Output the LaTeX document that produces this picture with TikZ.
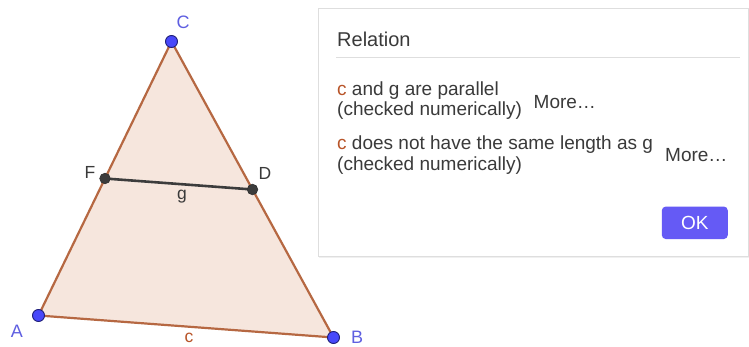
\documentclass[tikz,border=0pt]{standalone}
\usepackage{fontspec}
\setmainfont{Liberation Sans}
\definecolor{edgebrown}{RGB}{182,104,66}
\definecolor{fillpeach}{RGB}{246,230,221}
\definecolor{ptblue}{RGB}{72,72,250}
\definecolor{ptblueedge}{RGB}{30,30,120}
\definecolor{lblblue}{RGB}{95,95,225}
\definecolor{txtgrey}{RGB}{58,58,58}
\definecolor{cbrown}{RGB}{184,84,40}
\definecolor{okblue}{RGB}{101,90,245}
\definecolor{boxline}{RGB}{222,222,222}
\definecolor{segdark}{RGB}{60,60,60}
\begin{document}
\begin{tikzpicture}[x=1pt,y=-1pt,
  bluept/.style={circle,fill=ptblue,draw=ptblueedge,line width=0.9pt,inner sep=0pt,minimum size=12pt},
  darkpt/.style={circle,fill=segdark,draw=black!80,line width=0.7pt,inner sep=0pt,minimum size=10.5pt},
  ptlabel/.style={text=lblblue,font=\fontsize{18}{18}\selectfont,inner sep=0pt},
  seglabel/.style={font=\fontsize{17.5}{17.5}\selectfont,inner sep=0pt},
  body/.style={anchor=base west,inner sep=0pt,text=txtgrey,font=\fontsize{19}{20}\selectfont},
]
\useasboundingbox (0,0) rectangle (749,347);
\fill[white] (0,0) rectangle (749,347);

% triangle
\coordinate (A) at (38.5,315.5);
\coordinate (B) at (333.5,337.5);
\coordinate (C) at (171.5,41.5);
\coordinate (F) at (105,178.5);
\coordinate (D) at (252.5,189.5);
\fill[fillpeach] (A) -- (B) -- (C) -- cycle;
\draw[edgebrown,line width=2.2pt,line join=round] (A) -- (B) -- (C) -- cycle;
\draw[segdark,line width=2.6pt] (F) -- (D);

\node[bluept] (pA) at (A) {};
\node[bluept] (pB) at (B) {};
\node[bluept] (pC) at (C) {};
\node[darkpt] (pF) at (F) {};
\node[darkpt] (pD) at (D) {};

\node[ptlabel] (lA) at (17,331) {A};
\node[ptlabel] (lB) at (357,337.5) {B};
\node[ptlabel] (lC) at (183,22) {C};
\node[seglabel,text=txtgrey] (lF) at (90,172) {F};
\node[seglabel,text=txtgrey] (lD) at (265,173) {D};
\node[seglabel,text=txtgrey] (lg) at (182,197) {g};
\node[seglabel,text=cbrown] (lc) at (189,338) {c};

% dialog
\fill[black!6] (319,10) rectangle (749.5,258.5);
\draw[boxline,fill=white,line width=1pt] (318,9) rectangle (748,257);
\node[anchor=base west,inner sep=0pt,text=txtgrey,font=\fontsize{20}{20}\selectfont] (title) at (337,46.7) {Relation};
\draw[boxline,line width=1pt] (336,57.5) -- (740,57.5);

\node[body] (r1a) at (337,96) {\textcolor{cbrown}{c} and g are parallel};
\node[body] (r1b) at (337,116) {(checked numerically)};
\node[body] (m1) at (533.5,109) {More…};
\node[body] (r2a) at (337,150) {\textcolor{cbrown}{c} does not have the same length as g};
\node[body] (r2b) at (337,170.5) {(checked numerically)};
\node[body] (m2) at (665,162) {More…};

\node[fill=okblue,rounded corners=4pt,minimum width=66pt,minimum height=32.5pt,inner sep=0pt,
      text=white,font=\fontsize{19}{19}\selectfont] (ok) at (694.8,222.8) {OK};
\end{tikzpicture}
\end{document}
